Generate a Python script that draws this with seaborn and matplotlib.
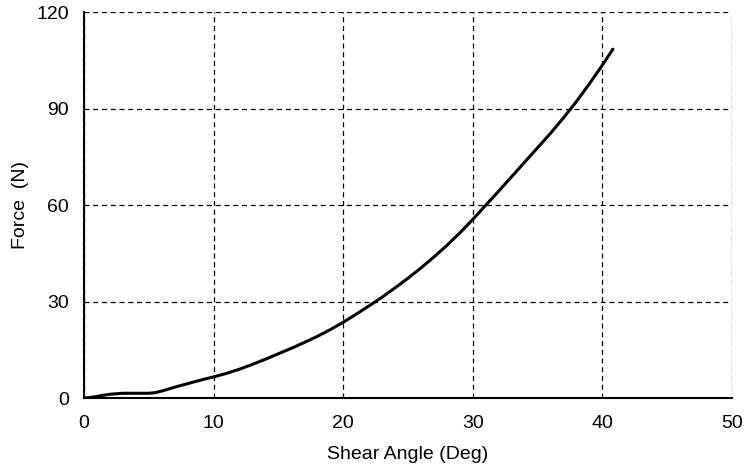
import numpy as np
import pandas as pd
import seaborn as sns
import matplotlib.pyplot as plt

# shear angle (deg) vs force (N)
angle = [0, 0.5, 1, 1.5, 2, 3, 4, 5, 5.5, 6, 7, 8, 9, 10, 11, 12, 13, 14, 15, 16,
         17, 18, 19, 20, 21, 22, 23, 24, 25, 26, 27, 28, 29, 30, 31, 32, 33, 34,
         35, 36, 37, 38, 39, 40, 40.8]
force = [0, 0.2, 0.5, 0.9, 1.2, 1.5, 1.5, 1.5, 1.7, 2.2, 3.4, 4.5, 5.6, 6.6, 7.7,
         9, 10.5, 12.1, 13.8, 15.5, 17.3, 19.2, 21.3, 23.6, 26.1, 28.7, 31.4,
         34.3, 37.3, 40.5, 43.9, 47.5, 51.4, 55.6, 60, 64.4, 68.9, 73.4, 77.9,
         82.4, 87.2, 92.3, 97.8, 103.6, 108.5]
xticks = [0, 10, 20, 30, 40, 50]
yticks = [0, 30, 60, 90, 120]

df = pd.DataFrame({'angle': angle, 'force': force})

sns.set_style('white')
plt.rcParams['font.family'] = ['Liberation Sans', 'DejaVu Sans']
plt.rcParams['font.size'] = 14
plt.rcParams['text.color'] = 'black'
plt.rcParams['axes.labelcolor'] = 'black'
plt.rcParams['xtick.color'] = 'black'
plt.rcParams['ytick.color'] = 'black'

fig = plt.figure(figsize=(7.44, 4.70), dpi=100)
ax = fig.add_axes([0.113, 0.153, 0.871, 0.821])
sns.lineplot(data=df, x='angle', y='force', color='black', linewidth=2.2, ax=ax)

ax.set_xlim(0, 50)
ax.set_ylim(0, 120)
ax.set_xticks(xticks)
ax.set_yticks(yticks)
ax.grid(True, color='black', linestyle=(0, (4, 3)), linewidth=0.9)
ax.set_axisbelow(True)
for s in ['top', 'right']:
    ax.spines[s].set_visible(False)
for s in ['left', 'bottom']:
    ax.spines[s].set_color('black')
    ax.spines[s].set_linewidth(1.5)
    ax.spines[s].set_zorder(5)
ax.tick_params(axis='y', length=0, pad=11)
ax.tick_params(axis='x', length=0, pad=12)
ax.set_xlabel('Shear Angle (Deg)', labelpad=10)
ax.set_ylabel('Force  (N)', labelpad=5)

fig.savefig('out.png', dpi=100)
